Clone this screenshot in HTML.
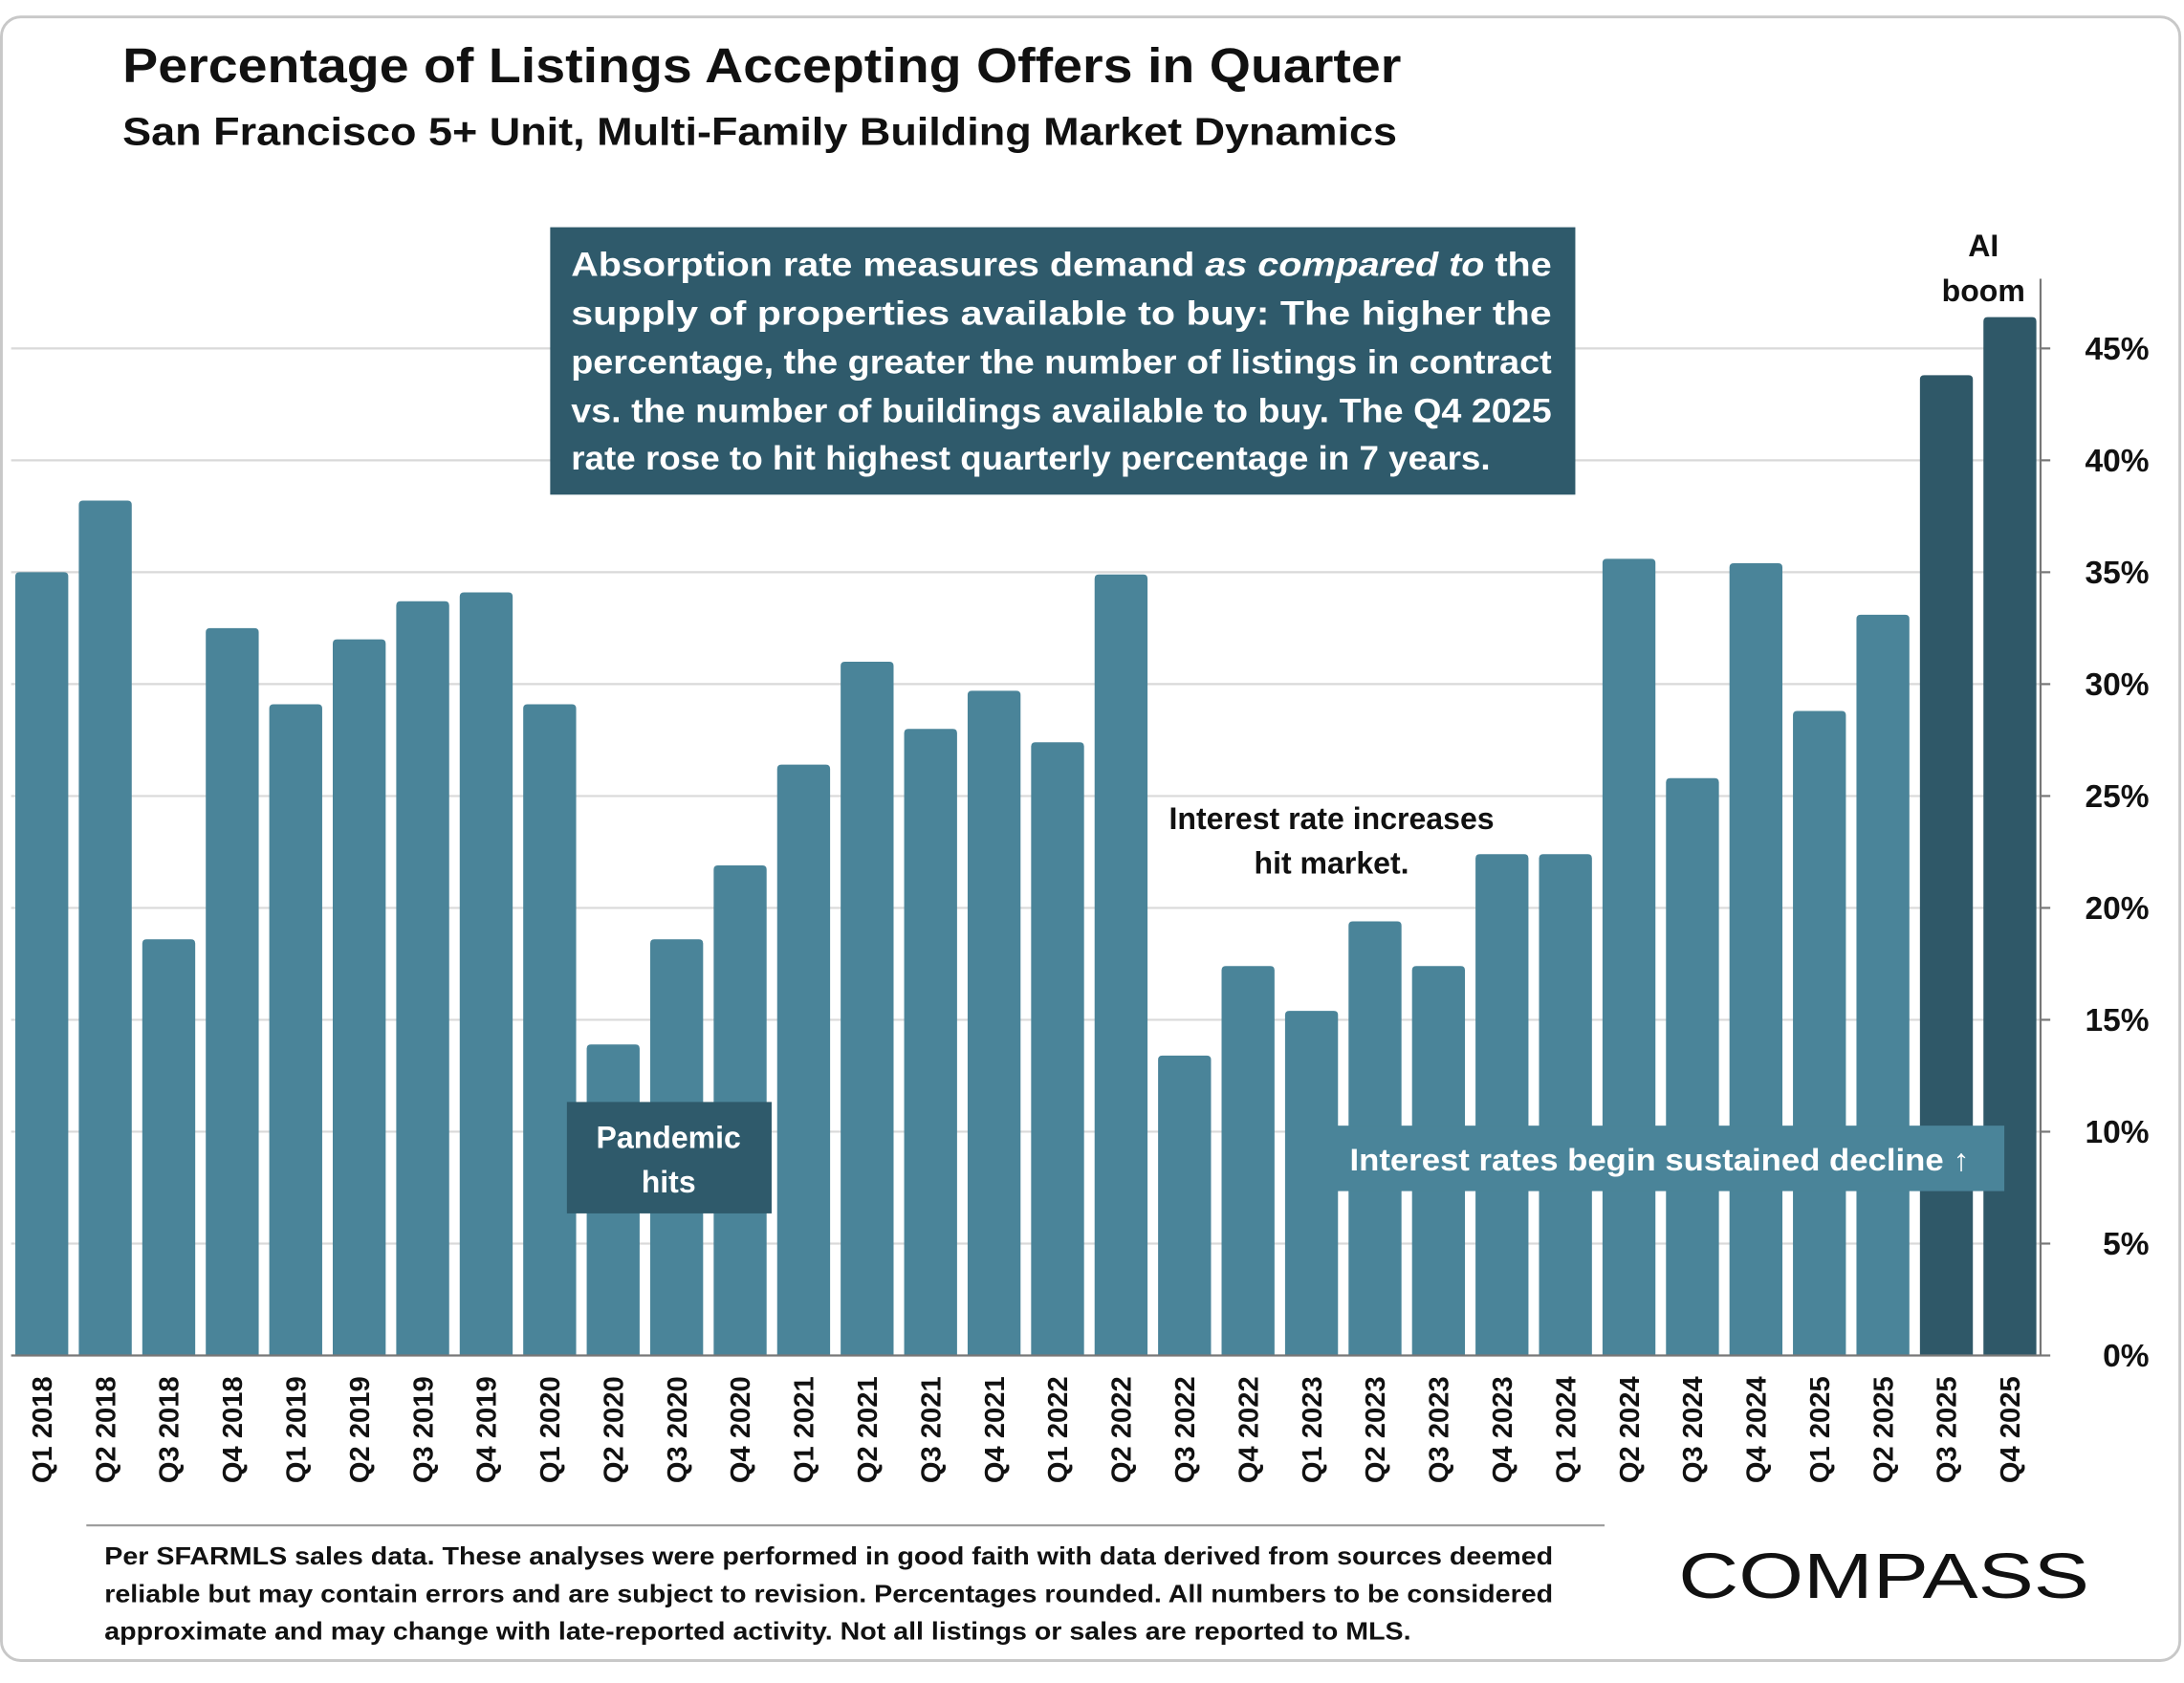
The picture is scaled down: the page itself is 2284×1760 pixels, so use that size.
<!DOCTYPE html>
<html><head><meta charset="utf-8"><style>
html,body{margin:0;padding:0;background:#fff;}
svg{display:block;font-family:"Liberation Sans",sans-serif;}
</style></head><body>
<svg id="chart" width="2284" height="1760" viewBox="0 0 1568 1208">
<rect x="1" y="12" width="1564" height="1180" rx="14" fill="#fff" stroke="#c8c8c8" stroke-width="2"/>
<text x="88" y="59" font-size="35" font-weight="bold" fill="#111" textLength="918" lengthAdjust="spacingAndGlyphs">Percentage of Listings Accepting Offers in Quarter</text>
<text x="88" y="104" font-size="28" font-weight="bold" fill="#111" textLength="915" lengthAdjust="spacingAndGlyphs">San Francisco 5+ Unit, Multi-Family Building Market Dynamics</text>
<g id="grid"></g>
<g id="bars"></g>
<g id="xlabels"></g>
<g id="yaxis"></g>
<g>
<rect x="395" y="163" width="736" height="192" fill="#2f5a6b"/>
<g font-size="24" font-weight="bold" fill="#fff">
<text x="410" y="198" textLength="704" lengthAdjust="spacingAndGlyphs">Absorption rate measures demand <tspan font-style="italic">as compared to</tspan> the</text>
<text x="410" y="233" textLength="704" lengthAdjust="spacingAndGlyphs">supply of properties available to buy:  The higher the</text>
<text x="410" y="268" textLength="704" lengthAdjust="spacingAndGlyphs">percentage, the greater the number of listings in contract</text>
<text x="410" y="303" textLength="704" lengthAdjust="spacingAndGlyphs">vs. the number of buildings available to buy. The Q4 2025</text>
<text x="410" y="337" textLength="660" lengthAdjust="spacingAndGlyphs">rate rose to hit highest quarterly percentage in 7 years.</text>
</g></g>
<g font-size="22" font-weight="bold" fill="#111" text-anchor="middle">
<text x="1424" y="184">AI</text><text x="1424" y="216">boom</text></g>
<g font-size="22" font-weight="bold" fill="#111" text-anchor="middle">
<text x="956" y="595">Interest rate increases</text><text x="956" y="627">hit market.</text></g>
<g>
<rect x="407" y="791" width="147" height="80" fill="#2f5a6b"/>
<text x="480" y="824" font-size="22" font-weight="bold" fill="#fff" text-anchor="middle">Pandemic</text>
<text x="480" y="856" font-size="22" font-weight="bold" fill="#fff" text-anchor="middle">hits</text></g>
<g>
<rect x="960" y="808" width="479" height="47" fill="#4a8499"/>
<text x="969" y="840" font-size="22" font-weight="bold" fill="#fff" textLength="445" lengthAdjust="spacingAndGlyphs">Interest rates begin sustained decline ↑</text></g>
<line x1="62" y1="1095" x2="1152" y2="1095" stroke="#999" stroke-width="1.5"/>
<g font-size="18" font-weight="bold" fill="#111">
<text x="75" y="1123" textLength="1040" lengthAdjust="spacingAndGlyphs">Per SFARMLS sales data. These analyses were performed in good faith with data derived from sources deemed</text>
<text x="75" y="1150" textLength="1040" lengthAdjust="spacingAndGlyphs">reliable but may contain errors and are subject to revision. Percentages rounded. All numbers to be considered</text>
<text x="75" y="1177" textLength="938" lengthAdjust="spacingAndGlyphs">approximate and may change with late-reported activity. Not all listings or sales are reported to MLS.</text></g>
<text x="1205" y="1147" font-size="46" fill="#111" textLength="295" lengthAdjust="spacingAndGlyphs">COMPASS</text>
</svg>
<script>
const categories=["Q1 2018","Q2 2018","Q3 2018","Q4 2018","Q1 2019","Q2 2019","Q3 2019","Q4 2019","Q1 2020","Q2 2020","Q3 2020","Q4 2020","Q1 2021","Q2 2021","Q3 2021","Q4 2021","Q1 2022","Q2 2022","Q3 2022","Q4 2022","Q1 2023","Q2 2023","Q3 2023","Q4 2023","Q1 2024","Q2 2024","Q3 2024","Q4 2024","Q1 2025","Q2 2025","Q3 2025","Q4 2025"];
const values=[35,38.2,18.6,32.5,29.1,32,33.7,34.1,29.1,13.9,18.6,21.9,26.4,31,28,29.7,27.4,34.9,13.4,17.4,15.4,19.4,17.4,22.4,22.4,35.6,25.8,35.4,28.8,33.1,43.8,46.4];
const highlight=["Q3 2025","Q4 2025"];
const yTicks=[0,5,10,15,20,25,30,35,40,45];
const NS="http://www.w3.org/2000/svg";
const y0=973,yPer=(973-250)/45;
function yScale(v){return y0-v*yPer;}
function xScale(i){return 30+i*(1443-30)/31;}
const bw=38;
function mk(tag,attrs,parent){const e=document.createElementNS(NS,tag);for(const k in attrs)e.setAttribute(k,attrs[k]);parent.appendChild(e);return e;}
const grid=document.getElementById('grid'),bars=document.getElementById('bars'),xl=document.getElementById('xlabels'),ya=document.getElementById('yaxis');
yTicks.forEach(t=>{
 if(t>0){const g=mk('line',{x1:8,x2:1465,y1:yScale(t),y2:yScale(t),stroke:'#d9d9d9','stroke-width':1.5},grid);
 
 }
 const tk=mk('line',{x1:1465,x2:1472,y1:yScale(t),y2:yScale(t),stroke:'#777','stroke-width':1.5},ya);
 
 
 const tx=mk('text',{x:1543,y:yScale(t)+8,'font-size':23,'font-weight':'bold',fill:'#111','text-anchor':'end'},ya);
 tx.textContent=t+'%';
 
 
});
const ax=mk('line',{x1:1465,x2:1465,y1:200,y2:973,stroke:'#777','stroke-width':1.5},ya);


categories.forEach((c,i)=>{
 const x=xScale(i),v=values[i],top=yScale(v);
 const dark=highlight.includes(c);
 const r=mk('path',{d:`M${x-bw/2},${y0} V${top+3} Q${x-bw/2},${top} ${x-bw/2+3},${top} H${x+bw/2-3} Q${x+bw/2},${top} ${x+bw/2},${top+3} V${y0} Z`,fill:dark?'#2f5868':'#4a8499'},bars);
 
 
 const t=mk('text',{transform:`translate(${x+7},988) rotate(-90)`,'font-size':20,'font-weight':'bold',fill:'#111','text-anchor':'end'},xl);
 t.textContent=c;
 
 
});
const xa=mk('line',{x1:8,x2:1465,y1:y0,y2:y0,stroke:'#777','stroke-width':1.5},bars);


</script>
</body></html>
